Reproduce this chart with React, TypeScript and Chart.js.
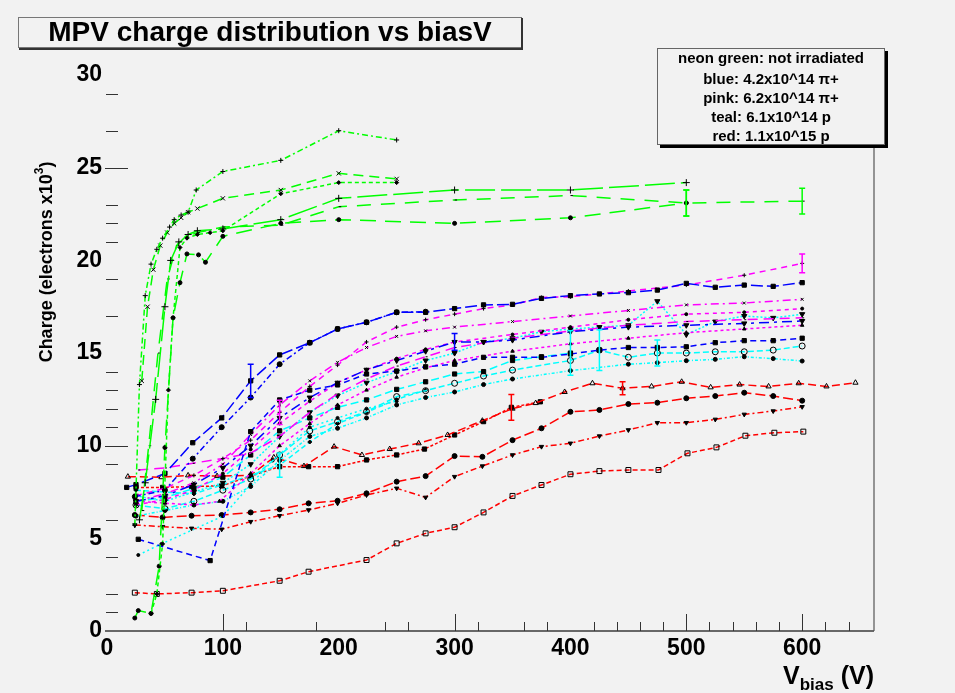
import React, { useEffect, useRef } from "react";
import { Chart, registerables } from "chart.js";

Chart.register(...registerables);

const FONT = "'Liberation Sans', Arial, Helvetica, sans-serif";

// ---------------- axis / text data ----------------
const xTickValues = [0, 100, 200, 300, 400, 500, 600];
const yTickValues = [0, 5, 10, 15, 20, 25, 30];
const xMajorTicks = [100, 300, 500, 600];
const xMinorTicks = [120, 180, 240, 260, 320, 360, 380, 420, 440, 460, 480, 520, 540, 560, 580, 620, 640];
const yMajorTicks = [10, 25];
const yMinorTicks = [1, 2, 4, 6, 9, 11, 12, 13, 14, 17, 19, 21, 22, 23, 27, 29];
const chartTitle = "MPV charge distribution vs biasV";
const legendLines = [
  "neon green: not irradiated",
  "blue: 4.2x10^14 \u03c0+",
  "pink: 6.2x10^14 \u03c0+",
  "teal: 6.1x10^14 p",
  "red: 1.1x10^15 p",
];

// ---------------- green: not irradiated ----------------
const vG1 = [24, 28, 33, 38, 43, 48, 54, 58, 64, 70, 77, 100, 150, 200, 250];
const qG1 = [5.7, 13.3, 18.1, 19.8, 20.6, 21.2, 21.8, 22.2, 22.45, 22.6, 23.8, 24.8, 25.4, 27.0, 26.5];
const vG2 = [30, 35, 40, 46, 52, 58, 64, 70, 78, 100, 150, 200, 250];
const qG2 = [13.5, 17.5, 19.5, 20.8, 21.5, 22.0, 22.3, 22.6, 22.8, 23.35, 23.8, 24.7, 24.4];
const vG3 = [38, 43, 48, 53, 57, 63, 69, 78, 89, 100, 150, 200, 250];
const qG3 = [0.95, 2.0, 4.7, 13.0, 16.9, 20.7, 21.2, 21.4, 21.5, 21.6, 23.6, 24.2, 24.2];
const vG4 = [24, 27, 38, 45, 50, 57, 63, 69, 79, 85, 100, 150, 200, 300, 400, 500];
const qG4 = [0.7, 1.1, 0.95, 3.5, 9.9, 16.9, 18.8, 20.35, 20.3, 19.9, 21.3, 22.0, 22.2, 22.0, 22.3, 23.1];
const vG5 = [28, 33, 42, 50, 55, 62, 70, 78, 100, 150, 200, 300, 400, 500];
const qG5 = [6.0, 8.0, 12.5, 17.5, 20.0, 21.0, 21.4, 21.6, 21.7, 22.2, 23.35, 23.8, 23.8, 24.2];
const vG6 = [30, 36, 44, 52, 60, 68, 78, 100, 150, 200, 300, 400, 500, 600];
const qG6 = [6.5, 10.0, 15.0, 19.0, 20.8, 21.3, 21.5, 21.8, 21.9, 22.9, 23.26, 23.5, 23.1, 23.2];

// ---------------- blue: 4.2e14 pi+ ----------------
const vB1 = [17, 25, 50, 74, 99, 124, 149, 175, 199, 224, 250, 275, 300, 325, 350, 375, 400, 425, 450, 475, 500, 525, 550, 575, 600];
const qB1 = [7.75, 7.9, 8.5, 10.16, 11.5, 13.5, 14.9, 15.56, 16.3, 16.66, 17.2, 17.2, 17.4, 17.6, 17.63, 17.95, 18.1, 18.19, 18.26, 18.4, 18.76, 18.55, 18.67, 18.6, 18.8];
const vB2 = [24, 50, 74, 99, 124, 149, 175, 199, 224, 250, 275];
const qB2 = [7.25, 7.6, 9.3, 11.0, 12.6, 14.4, 15.56, 16.3, 16.66, 17.2, 17.23];
const vB3 = [27, 89, 124, 149, 175, 199, 224, 250, 275, 300, 325, 350, 375, 400, 425, 450, 475, 500, 525, 550, 575, 600];
const qB3 = [4.95, 3.8, 10.76, 12.47, 13.0, 13.28, 13.87, 14.03, 14.26, 14.4, 14.77, 14.77, 14.77, 14.95, 15.16, 15.3, 15.3, 15.34, 15.56, 15.67, 15.67, 15.8];
const vB4 = [25, 50, 75, 100, 124, 149, 175, 199, 224, 250, 275, 300, 325, 350, 400, 450, 500, 550, 600];
const qB4 = [7.0, 7.3, 7.9, 8.8, 10.0, 11.5, 12.6, 13.4, 14.1, 14.6, 15.1, 15.6, 15.6, 15.7, 16.15, 16.4, 16.5, 16.6, 16.73];

// ---------------- pink: 6.2e14 pi+ ----------------
const vP1 = [25, 50, 75, 100, 124, 149, 175, 199, 224, 250, 275, 300, 325, 350, 375, 400, 450, 500, 550, 600];
const qP1 = [7.3, 7.7, 8.4, 9.3, 10.3, 11.8, 13.2, 14.35, 15.6, 16.4, 16.8, 17.1, 17.4, 17.6, 18.0, 18.04, 18.35, 18.67, 19.2, 19.84];
const vP2 = [25, 50, 75, 100, 124, 149, 175, 199, 224, 250, 275, 300, 350, 400, 450, 500, 550, 600];
const qP2 = [7.0, 7.4, 8.0, 9.0, 10.6, 12.2, 13.5, 14.5, 15.3, 15.9, 16.2, 16.4, 16.7, 17.0, 17.3, 17.6, 17.7, 17.9];
const vP3 = [25, 50, 75, 100, 124, 149, 175, 199, 224, 250, 275, 300, 350, 400, 450, 500, 550, 600];
const qP3 = [6.8, 7.1, 7.6, 8.5, 9.8, 11.2, 12.4, 13.4, 14.1, 14.7, 15.2, 15.6, 16.0, 16.4, 16.8, 17.1, 17.2, 17.4];
const vP4 = [27, 50, 74, 99, 124, 149, 175, 199, 224, 250, 275, 300, 350, 400, 450, 500, 550, 600];
const qP4 = [8.69, 8.8, 9.05, 9.3, 9.6, 10.5, 11.8, 12.8, 13.6, 14.3, 14.8, 15.3, 15.8, 16.2, 16.5, 16.7, 16.8, 16.9];
const vP5 = [25, 50, 75, 97, 124, 149, 175, 199, 224, 250, 275, 300, 350, 400, 450, 500, 550, 600];
const qP5 = [7.0, 6.9, 6.8, 7.0, 8.5, 10.0, 11.2, 12.2, 13.0, 13.7, 14.2, 14.6, 15.1, 15.5, 15.8, 16.1, 16.3, 16.5];

// ---------------- teal: 6.1e14 p ----------------
const vT1 = [25, 50, 75, 100, 124, 149, 175, 199, 224, 250, 275, 300, 325, 350, 375, 400, 425, 450, 475, 500, 525, 550, 575, 600];
const qT1 = [7.3, 7.0, 7.5, 8.0, 9.0, 10.5, 11.8, 12.7, 13.4, 14.0, 14.6, 15.0, 15.6, 15.8, 16.15, 16.3, 16.4, 16.5, 17.8, 16.0, 16.7, 17.0, 16.9, 17.1];
const vT2 = [25, 50, 75, 100, 124, 149, 175, 199, 224, 250, 275, 300, 325, 350, 400, 425, 450, 475, 500, 525, 550, 575, 600];
const qT2 = [6.8, 6.6, 7.0, 7.6, 8.2, 9.5, 10.8, 11.3, 11.84, 12.65, 12.97, 13.37, 13.76, 14.08, 14.6, 15.16, 14.77, 15.0, 15.0, 15.07, 15.07, 15.16, 15.38];
const vT3 = [25, 50, 75, 100, 124, 149, 175, 199, 224, 250, 275, 300, 325, 350, 400, 450, 475, 500, 525, 550, 575, 600];
const qT3 = [6.2, 6.5, 6.8, 7.0, 7.8, 9.2, 10.5, 10.94, 11.5, 12.2, 12.6, 12.9, 13.3, 13.6, 14.05, 14.4, 14.48, 14.59, 14.66, 14.8, 14.7, 14.57];
const vT4 = [25, 50, 75, 100, 124, 149, 175, 199, 224, 250, 275, 300, 325, 350, 375, 400];
const qT4 = [7.0, 7.2, 7.7, 8.3, 9.5, 10.8, 11.5, 12.07, 12.47, 13.04, 13.45, 13.87, 14.0, 14.6, 14.8, 15.0];
const vT5 = [27, 47, 100, 124, 143, 175, 199, 224, 250];
const qT5 = [4.1, 4.7, 6.2, 7.9, 9.2, 11.0, 11.5, 12.0, 12.4];
const vT6 = [25, 50, 75, 100, 124, 149, 175, 199, 224, 250, 275];
const qT6 = [7.6, 7.5, 7.4, 7.9, 8.4, 8.95, 10.2, 11.2, 11.8, 12.5, 13.0];

// ---------------- red: 1.1e15 p ----------------
const vR1 = [18, 47, 70, 95, 124, 144, 170, 196, 220, 244, 269, 294, 324, 350, 370, 395, 419, 445, 470, 496, 521, 546, 571, 597, 621, 646];
const qR1 = [8.33, 8.3, 8.4, 8.36, 8.4, 9.37, 8.9, 9.95, 9.5, 9.82, 10.13, 10.58, 11.35, 12.0, 12.3, 12.9, 13.37, 13.1, 13.2, 13.45, 13.15, 13.3, 13.2, 13.37, 13.2, 13.4];
const vR2 = [24, 48, 73, 99, 124, 149, 174, 199, 224, 250, 275, 300, 324, 350, 375, 400, 425, 450, 475, 500, 525, 550, 575, 600];
const qR2 = [6.26, 6.13, 6.22, 6.26, 6.4, 6.57, 6.89, 7.03, 7.43, 8.06, 8.36, 9.44, 9.4, 10.3, 10.94, 11.83, 11.93, 12.25, 12.32, 12.56, 12.68, 12.86, 12.68, 12.43];
const vR3 = [24, 48, 73, 99, 124, 149, 174, 199, 224, 250, 275, 300, 324, 350, 375, 400, 425, 450, 475, 500, 525, 550, 575, 600];
const qR3 = [5.72, 5.63, 5.54, 5.49, 5.9, 6.22, 6.53, 6.89, 7.34, 7.7, 7.21, 8.33, 8.9, 9.5, 9.95, 10.13, 10.52, 10.85, 11.24, 11.24, 11.42, 11.69, 11.87, 12.1];
const vR4 = [24, 43, 73, 100, 149, 174, 224, 250, 275, 300, 325, 350, 375, 400, 425, 450, 476, 501, 526, 551, 576, 601];
const qR4 = [2.07, 2.0, 2.07, 2.17, 2.71, 3.2, 3.83, 4.73, 5.27, 5.6, 6.4, 7.29, 7.88, 8.46, 8.63, 8.69, 8.69, 9.59, 9.91, 10.54, 10.7, 10.76];
const vR5 = [25, 48, 73, 99, 124, 149, 174, 199, 224, 250, 274, 300, 325, 349, 374];
const qR5 = [7.75, 7.75, 7.8, 7.83, 8.36, 8.87, 8.87, 8.87, 9.23, 9.5, 9.82, 10.58, 11.3, 12.07, 12.37];

// error bars: [voltage, half-size]
const errG4: [number, number][] = [[500, 0.7]];
const errG6: [number, number][] = [[500, 0.7], [600, 0.7]];
const errB1: [number, number][] = [[124, 0.9]];
const errB4: [number, number][] = [[300, 0.45]];
const errP1: [number, number][] = [[149, 0.65], [600, 0.5]];
const errT2: [number, number][] = [[425, 1.1], [475, 0.7]];
const errT4: [number, number][] = [[400, 1.2]];
const errT6: [number, number][] = [[149, 0.65]];
const errR1: [number, number][] = [[445, 0.35]];
const errR5: [number, number][] = [[349, 0.7]];

const GREEN = "#00ff00";
const BLUE = "#0000ff";
const PINK = "#ff00ff";
const TEAL = "#00ffff";
const RED = "#ff0000";

type Series = {
  v: number[];
  q: number[];
  color: string;
  dash: number[];
  marker: string;
  r: number;
  rot?: number;
  open?: boolean;
  err?: [number, number][];
};

const series: Series[] = [
  { v: vG1, q: qG1, color: GREEN, dash: [6, 3, 2, 3], marker: "cross", r: 2.5 },
  { v: vG2, q: qG2, color: GREEN, dash: [10, 6], marker: "crossRot", r: 3 },
  { v: vG3, q: qG3, color: GREEN, dash: [4, 3], marker: "rectRot", r: 2 },
  { v: vG4, q: qG4, color: GREEN, dash: [16, 9], marker: "circle", r: 2, err: errG4 },
  { v: vG5, q: qG5, color: GREEN, dash: [30, 6], marker: "cross", r: 3.5 },
  { v: vG6, q: qG6, color: GREEN, dash: [14, 10], marker: "dash", r: 2.5, err: errG6 },

  { v: vB1, q: qB1, color: BLUE, dash: [12, 4], marker: "rect", r: 3, err: errB1 },
  { v: vB2, q: qB2, color: BLUE, dash: [6, 3, 2, 3], marker: "circle", r: 2.5 },
  { v: vB3, q: qB3, color: BLUE, dash: [6, 4], marker: "rect", r: 3 },
  { v: vB4, q: qB4, color: BLUE, dash: [10, 5, 3, 5], marker: "triangle", r: 3, rot: 180, err: errB4 },

  { v: vP1, q: qP1, color: PINK, dash: [6, 5], marker: "cross", r: 2, err: errP1 },
  { v: vP2, q: qP2, color: PINK, dash: [8, 4, 2, 4], marker: "crossRot", r: 2 },
  { v: vP3, q: qP3, color: PINK, dash: [4, 4], marker: "circle", r: 1.5 },
  { v: vP4, q: qP4, color: PINK, dash: [10, 6], marker: "dash", r: 2 },
  { v: vP5, q: qP5, color: PINK, dash: [3, 3], marker: "triangle", r: 2 },

  { v: vT1, q: qT1, color: TEAL, dash: [2, 2], marker: "triangle", r: 3, rot: 180 },
  { v: vT2, q: qT2, color: TEAL, dash: [6, 3], marker: "circle", r: 3, open: true, err: errT2 },
  { v: vT3, q: qT3, color: TEAL, dash: [3, 2, 1, 2], marker: "circle", r: 2 },
  { v: vT4, q: qT4, color: TEAL, dash: [8, 4], marker: "rect", r: 3, err: errT4 },
  { v: vT5, q: qT5, color: TEAL, dash: [2, 3], marker: "circle", r: 1.5 },
  { v: vT6, q: qT6, color: TEAL, dash: [5, 3], marker: "rectRot", r: 2, err: errT6 },

  { v: vR1, q: qR1, color: RED, dash: [8, 4], marker: "triangle", r: 3, open: true, err: errR1 },
  { v: vR2, q: qR2, color: RED, dash: [10, 4], marker: "circle", r: 2.5 },
  { v: vR3, q: qR3, color: RED, dash: [6, 3, 2, 3], marker: "triangle", r: 2.5, rot: 180 },
  { v: vR4, q: qR4, color: RED, dash: [5, 3], marker: "rect", r: 3.5, open: true },
  { v: vR5, q: qR5, color: RED, dash: [3, 2], marker: "rect", r: 3, err: errR5 },
];

const BG = "#f2f2f2";

const decorPlugin = {
  id: "decor",
  beforeDraw(chart: any) {
    const ctx = chart.ctx;
    ctx.save();
    ctx.fillStyle = BG;
    ctx.fillRect(0, 0, chart.width, chart.height);
    ctx.restore();
  },
  afterDatasetsDraw(chart: any) {
    const ctx = chart.ctx;
    const xs = chart.scales.x;
    const ys = chart.scales.y;
    ctx.save();
    ctx.lineWidth = 1.5;
    chart.data.datasets.forEach((ds: any) => {
      const errs: [number, number][] = ds.errBars || [];
      ctx.strokeStyle = ds.borderColor;
      errs.forEach(([v, e]) => {
        const pt = ds.data.find((p: any) => p.x === v);
        if (!pt) return;
        const px = xs.getPixelForValue(pt.x);
        const y1 = ys.getPixelForValue(pt.y + e);
        const y2 = ys.getPixelForValue(pt.y - e);
        ctx.beginPath();
        ctx.moveTo(px, y1);
        ctx.lineTo(px, y2);
        ctx.moveTo(px - 3, y1);
        ctx.lineTo(px + 3, y1);
        ctx.moveTo(px - 3, y2);
        ctx.lineTo(px + 3, y2);
        ctx.stroke();
      });
    });
    ctx.restore();
  },
  afterDraw(chart: any) {
    const ctx = chart.ctx;
    const xs = chart.scales.x;
    const ys = chart.scales.y;
    const area = chart.chartArea;
    ctx.save();

    // x axis line
    ctx.strokeStyle = "#3a3a3a";
    ctx.lineWidth = 1.5;
    ctx.beginPath();
    ctx.moveTo(105, area.bottom);
    ctx.lineTo(area.right, area.bottom);
    ctx.stroke();

    // right frame line
    ctx.strokeStyle = "#555";
    ctx.lineWidth = 1.2;
    ctx.beginPath();
    ctx.moveTo(area.right, area.top);
    ctx.lineTo(area.right, area.bottom);
    ctx.stroke();

    // x ticks (pointing up)
    ctx.strokeStyle = "#333";
    ctx.lineWidth = 1;
    ctx.beginPath();
    xMajorTicks.forEach((v) => {
      const px = Math.round(xs.getPixelForValue(v)) + 0.5;
      ctx.moveTo(px, area.bottom);
      ctx.lineTo(px, area.bottom - 17);
    });
    xMinorTicks.forEach((v) => {
      const px = Math.round(xs.getPixelForValue(v)) + 0.5;
      ctx.moveTo(px, area.bottom);
      ctx.lineTo(px, area.bottom - 9);
    });
    // y ticks (pointing right, no axis line)
    yMajorTicks.forEach((v) => {
      const py = Math.round(ys.getPixelForValue(v)) + 0.5;
      ctx.moveTo(105, py);
      ctx.lineTo(128, py);
    });
    yMinorTicks.forEach((v) => {
      const py = Math.round(ys.getPixelForValue(v)) + 0.5;
      ctx.moveTo(106, py);
      ctx.lineTo(118, py);
    });
    ctx.stroke();

    // y axis title (rotated)
    ctx.fillStyle = "#000";
    ctx.textBaseline = "middle";
    ctx.textAlign = "left";
    const mainFont = `bold 18px ${FONT}`;
    const supFont = `bold 12px ${FONT}`;
    const partA = "Charge (electrons x10";
    const partB = "3";
    const partC = ")";
    ctx.font = mainFont;
    const wA = ctx.measureText(partA).width;
    const wC = ctx.measureText(partC).width;
    ctx.font = supFont;
    const wB = ctx.measureText(partB).width;
    const total = wA + wB + wC;
    ctx.save();
    ctx.translate(47, 262);
    ctx.rotate(-Math.PI / 2);
    let sx = -total / 2;
    ctx.font = mainFont;
    ctx.fillText(partA, sx, 0);
    sx += wA;
    ctx.font = supFont;
    ctx.fillText(partB, sx, -7);
    sx += wB;
    ctx.font = mainFont;
    ctx.fillText(partC, sx, 0);
    ctx.restore();

    // x axis title V_bias (V)
    ctx.textBaseline = "alphabetic";
    const bigFont = `bold 25px ${FONT}`;
    const subFont = `bold 17px ${FONT}`;
    ctx.font = bigFont;
    const w1 = ctx.measureText("V").width;
    const w3 = ctx.measureText(" (V)").width;
    ctx.font = subFont;
    const w2 = ctx.measureText("bias").width;
    let tx = area.right - (w1 + w2 + w3);
    ctx.font = bigFont;
    ctx.fillText("V", tx, 684);
    tx += w1;
    ctx.font = subFont;
    ctx.fillText("bias", tx, 690);
    tx += w2;
    ctx.font = bigFont;
    ctx.fillText(" (V)", tx, 684);

    // title box
    ctx.fillStyle = BG;
    ctx.fillRect(18, 17, 504, 31);
    ctx.strokeStyle = "#777";
    ctx.lineWidth = 1;
    ctx.strokeRect(18.5, 17.5, 503, 30);
    ctx.strokeStyle = "#333";
    ctx.lineWidth = 2;
    ctx.beginPath();
    ctx.moveTo(522, 18);
    ctx.lineTo(522, 49);
    ctx.lineTo(19, 49);
    ctx.stroke();
    ctx.fillStyle = "#000";
    ctx.font = `bold 28px ${FONT}`;
    ctx.textAlign = "center";
    ctx.textBaseline = "middle";
    ctx.fillText(chartTitle, 270, 33);

    // legend box
    ctx.fillStyle = BG;
    ctx.fillRect(657, 48, 228, 97);
    ctx.strokeStyle = "#666";
    ctx.lineWidth = 1;
    ctx.strokeRect(657.5, 48.5, 227, 96);
    ctx.fillStyle = "#000";
    ctx.fillRect(885, 51, 3, 97);
    ctx.fillRect(660, 145, 228, 3);
    ctx.font = `bold 15px ${FONT}`;
    const ly = [58.5, 79.5, 98.5, 117.5, 136.5];
    legendLines.forEach((t, i) => ctx.fillText(t, 771, ly[i]));

    ctx.restore();
  },
};

export default function App() {
  const ref = useRef<HTMLCanvasElement | null>(null);
  useEffect(() => {
    if (!ref.current) return;
    const datasets = series.map((s) => ({
      data: s.v.map((v, i) => ({ x: v, y: s.q[i] })),
      borderColor: s.color,
      borderWidth: 1.5,
      borderDash: s.dash,
      fill: false,
      tension: 0,
      showLine: true,
      pointStyle: s.marker,
      pointRadius: s.r,
      pointRotation: s.rot || 0,
      pointBackgroundColor: s.open ? "rgba(0,0,0,0)" : "#000",
      pointBorderColor: "#000",
      pointBorderWidth: 1,
      errBars: s.err || [],
    }));
    const tickFont = { family: FONT, size: 23, weight: "bold" as const };
    const chart = new Chart(ref.current, {
      type: "line",
      data: { datasets: datasets as any },
      options: {
        animation: false,
        responsive: false,
        maintainAspectRatio: false,
        layout: { padding: { left: 0, right: 81, top: 56.6, bottom: 0 } },
        plugins: {
          legend: { display: false },
          tooltip: { enabled: false },
          title: { display: false },
        },
        scales: {
          x: {
            type: "linear",
            min: 0,
            max: 662,
            afterFit: (s: any) => {
              s.height = 62;
            },
            afterBuildTicks: (s: any) => {
              s.ticks = xTickValues.map((v) => ({ value: v }));
            },
            grid: { display: false, drawTicks: false },
            border: { display: false },
            ticks: {
              font: tickFont,
              color: "#000",
              padding: 4,
              maxRotation: 0,
              autoSkip: false,
              callback: (v: any) => String(v),
            },
          },
          y: {
            type: "linear",
            min: 0,
            max: 31,
            afterFit: (s: any) => {
              s.width = 107;
            },
            afterBuildTicks: (s: any) => {
              s.ticks = yTickValues.map((v) => ({ value: v }));
            },
            grid: { display: false, drawTicks: false },
            border: { display: false },
            ticks: {
              font: tickFont,
              color: "#000",
              padding: 5,
              autoSkip: false,
              callback: (v: any) => String(v),
            },
          },
        },
      },
      plugins: [decorPlugin],
    });
    return () => chart.destroy();
  }, []);

  return (
    <div style={{ position: "fixed", left: 0, top: 0, width: 955, height: 693, background: BG }}>
      <canvas ref={ref} width={955} height={693} style={{ width: 955, height: 693, display: "block" }} />
    </div>
  );
}
